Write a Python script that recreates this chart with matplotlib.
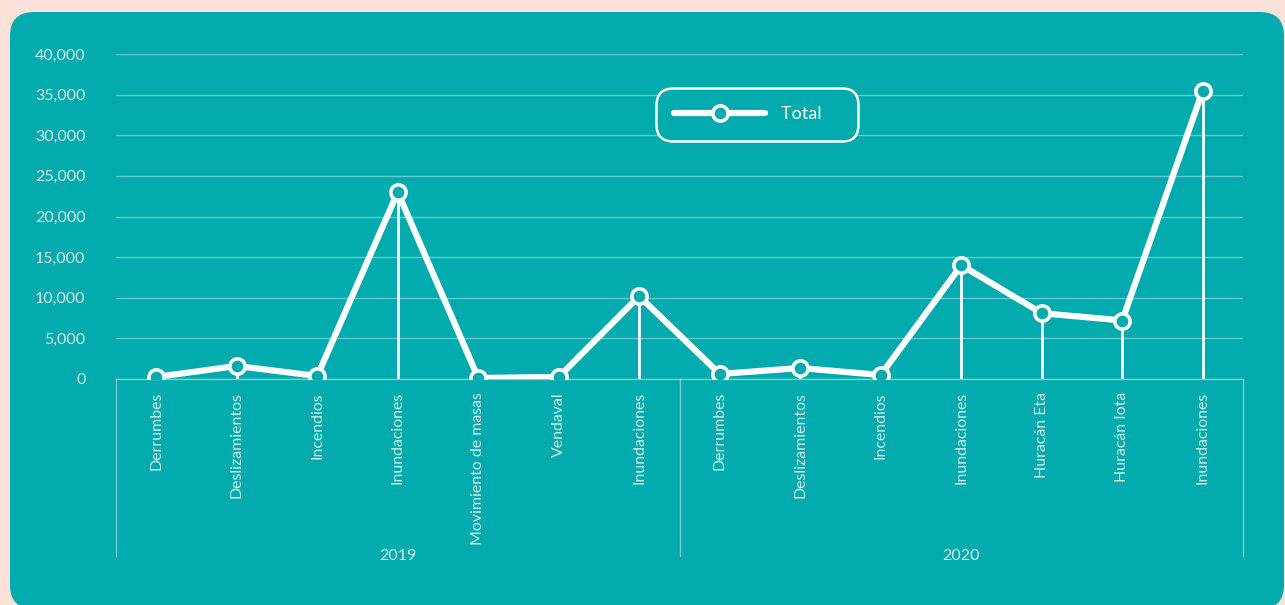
import matplotlib.pyplot as plt
from matplotlib.patches import FancyBboxPatch
from matplotlib.ticker import FuncFormatter, MultipleLocator
import matplotlib.transforms as mtransforms

plt.rcParams['font.family'] = ['Lato', 'DejaVu Sans']

years = ["2019", "2020"]
events = [
    "Derrumbes", "Deslizamientos", "Incendios", "Inundaciones",
    "Movimiento de masas", "Vendaval", "Inundaciones",
    "Derrumbes", "Deslizamientos", "Incendios", "Inundaciones",
    "Huracán Eta", "Huracán Iota", "Inundaciones",
]
events_per_year = [7, 7]
total = [250, 1600, 370, 23000, 120, 250, 10200,
         620, 1350, 490, 14000, 8100, 7200, 35500]

teal = "#00AAAD"
peach = "#FDE2DA"
soft = "#D6F0F0"

fig = plt.figure(figsize=(12.85, 6.05), dpi=100)
fig.patch.set_facecolor(peach)

# rounded panel behind the chart, laid out in pixel units
W, H = 1285, 605
px = mtransforms.Affine2D().scale(1 / W, 1 / H) + fig.transFigure
panel = FancyBboxPatch((10, -4), 1274, H - 12 + 4,
                       boxstyle="round,pad=0,rounding_size=24",
                       transform=px, facecolor=teal,
                       edgecolor="none", zorder=-10)
fig.patches.append(panel)

ax = fig.add_axes([116 / W, 226 / H, 1127 / W, 325 / H])
ax.set_facecolor("none")
x = list(range(len(total)))

ax.set_xlim(-0.5, len(total) - 0.5)
ax.set_ylim(0, 40000)
ax.yaxis.set_major_locator(MultipleLocator(5000))
ax.yaxis.set_major_formatter(FuncFormatter(lambda v, p: f"{int(v):,}"))
ax.grid(axis="y", color="white", alpha=0.4, lw=1)
ax.set_axisbelow(True)
for s in ax.spines.values():
    s.set_visible(False)
ax.tick_params(axis="y", length=0, pad=22, labelsize=11.5, labelcolor=soft)
ax.set_xticks([])

# drop lines and the series
ax.vlines(x, 0, total, color="white", lw=2, zorder=2)
ax.plot(x, total, color="white", lw=4.5, marker="o", markersize=11,
        markerfacecolor=teal, markeredgecolor="white", markeredgewidth=2.6,
        zorder=3, label="Total", solid_capstyle="round")

# category labels and year groups under the axis
trans = mtransforms.blended_transform_factory(ax.transData, ax.transAxes)
for i, name in enumerate(events):
    ax.text(i, -0.04, name, rotation=90, ha="center", va="top",
            transform=trans, color=soft, fontsize=11.4)

ax.plot([-0.5, len(total) - 0.5], [0, 0], color="white", alpha=0.45,
        lw=1, transform=trans, clip_on=False)
start = -0.5
bounds = [start]
for n in events_per_year:
    start += n
    bounds.append(start)
for b in bounds:
    ax.plot([b, b], [0, -0.545], color="white", alpha=0.45, lw=1,
            transform=trans, clip_on=False)
for yr, a, b in zip(years, bounds[:-1], bounds[1:]):
    ax.text((a + b) / 2, -0.545, yr, ha="center", va="center",
            transform=trans, color=soft, fontsize=11.5)

handles, labels = ax.get_legend_handles_labels()
leg = ax.legend(handles, [lab + "    " for lab in labels], loc="center",
                bbox_to_anchor=(0.569, 0.814), fontsize=13,
                handlelength=5.0, handletextpad=0.9, borderpad=0.75,
                borderaxespad=0, fancybox=True, frameon=True,
                labelcolor="white")
frame = leg.get_frame()
frame.set_facecolor(teal)
frame.set_edgecolor("white")
frame.set_linewidth(1.8)
frame.set_alpha(1)
frame.set_boxstyle("round,pad=0.25,rounding_size=0.9")

fig.savefig("out.png", dpi=100, facecolor=peach)
